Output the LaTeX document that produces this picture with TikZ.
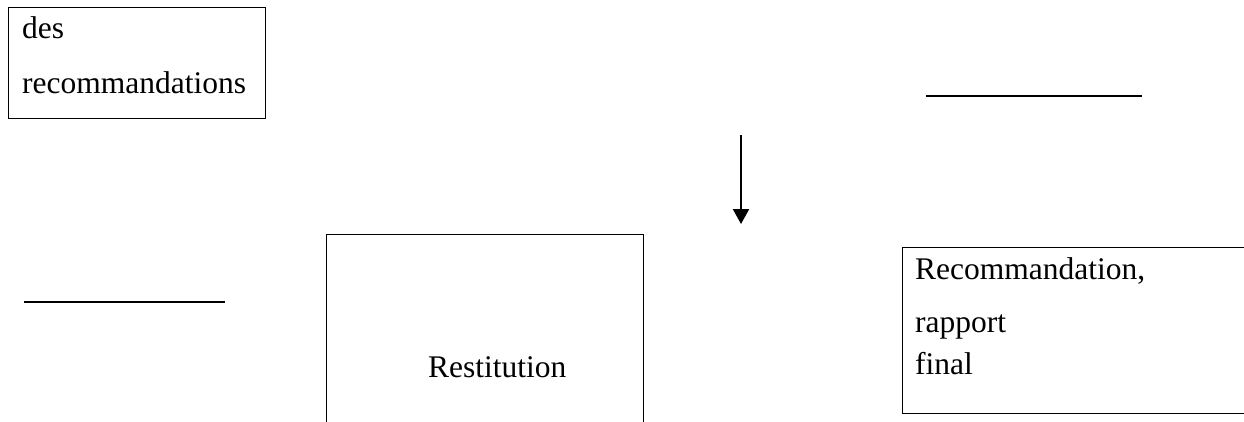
\documentclass[tikz,border=0pt]{standalone}
\usepackage{fontspec}
\setmainfont{Liberation Serif}
\usetikzlibrary{arrows.meta}
\tikzset{
  box/.style={draw=black, line width=1pt, inner sep=0pt, anchor=north west},
  txt/.style={inner sep=0pt, anchor=base west, font=\fontsize{31.5}{38}\selectfont},
  bar/.style={line width=2.2pt},
  arr/.style={line width=2.2pt, -{Triangle[width=16pt,length=15pt]}}
}
\begin{document}
\begin{tikzpicture}[x=1pt,y=-1pt]
\useasboundingbox (0,0) rectangle (1244,421);
\clip (0,0) rectangle (1244,421);
% boxes
\node[box, minimum width=257pt, minimum height=111pt] (b1) at (8,7) {};
\node[box, minimum width=317pt, minimum height=220pt] (b2) at (326,234) {};
\node[box, minimum width=360pt, minimum height=166pt] (b3) at (902,247) {};
% texts
\node[txt] (t1a) at (22,38) {des};
\node[txt] (t1b) at (22,93) {recommandations};
\node[txt] (t2) at (428,377) {Restitution};
\node[txt] (t3a) at (915,279) {Recommandation,};
\node[txt] (t3b) at (915,332) {rapport};
\node[txt] (t3c) at (915,374) {final};
% lines
\coordinate (l1a) at (926,96);
\coordinate (l1b) at (1142,96);
\draw[bar] (l1a) -- (l1b);
\coordinate (l2a) at (24,302);
\coordinate (l2b) at (225,302);
\draw[bar] (l2a) -- (l2b);
% arrow
\coordinate (a1) at (741,135);
\coordinate (a2) at (741,224);
\draw[arr] (a1) -- (a2);
\end{tikzpicture}
\end{document}
